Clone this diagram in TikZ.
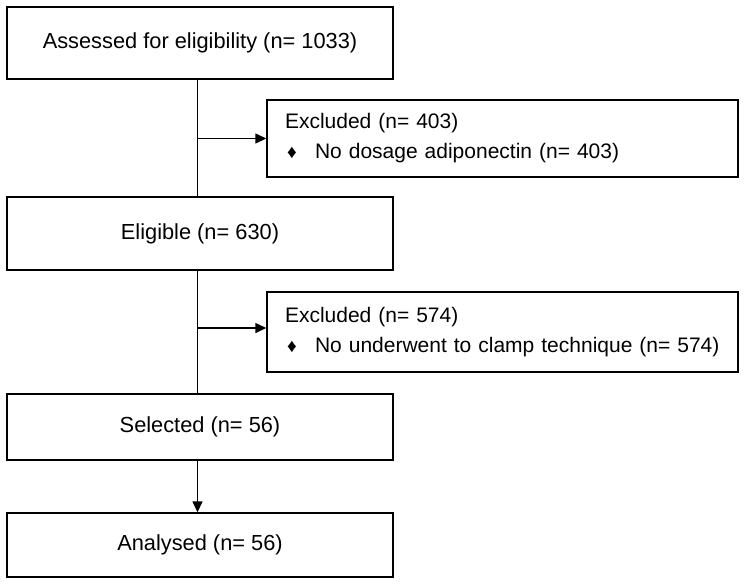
\documentclass[tikz,border=0pt]{standalone}
\usepackage{fontspec}
\setmainfont{Liberation Sans}
\usetikzlibrary{arrows.meta}
\newcommand{\dmd}{\hspace*{2pt}\makebox[28pt][l]{\fontsize{19}{19}\selectfont ♦}}
\begin{document}
\begin{tikzpicture}[x=1pt,y=-1pt,
  box/.style={draw, line width=1.4pt, inner sep=0pt, anchor=center, font=\fontsize{21.8}{30}\selectfont},
  mainbox/.style={box, minimum width=386pt},
  exbox/.style={box, minimum width=471pt, text width=435pt, align=left, font=\fontsize{21}{30}\selectfont},
  ln/.style={line width=1.4pt},
  arr/.style={line width=1.4pt, -{Triangle[length=11pt,width=10pt]}}]
\useasboundingbox[fill=white] (0,0) rectangle (746,584);
\node[mainbox, minimum height=72pt] (b1) at (200,43) {Assessed for eligibility (n= 1033)};
\node[exbox, minimum height=77pt] (b2) at (502.5,138.5) {\mbox{Excluded (n= 403)}\\\mbox{\dmd No dosage adiponectin (n= 403)}};
\node[mainbox, minimum height=73pt] (b3) at (200,233.5) {Eligible (n= 630)};
\node[exbox, minimum height=80pt] (b4) at (502.5,332) {\mbox{Excluded (n= 574)}\\\mbox{\dmd No underwent to clamp technique (n= 574)}};
\node[mainbox, minimum height=66pt] (b5) at (200,427) {Selected (n= 56)};
\node[mainbox, minimum height=64pt] (b6) at (200,545) {Analysed (n= 56)};
\coordinate (j1) at (197.5,138.5);
\coordinate (j2) at (197.5,328);
\draw[ln] (b1.south -| j1) -- (b3.north -| j1);
\draw[arr] (j1) -- (j1 -| b2.west);
\draw[ln] (b3.south -| j2) -- (b5.north -| j2);
\draw[arr] (j2) -- (j2 -| b4.west);
\draw[arr] (b5.south -| j2) -- (b6.north -| j2);
\end{tikzpicture}
\end{document}
